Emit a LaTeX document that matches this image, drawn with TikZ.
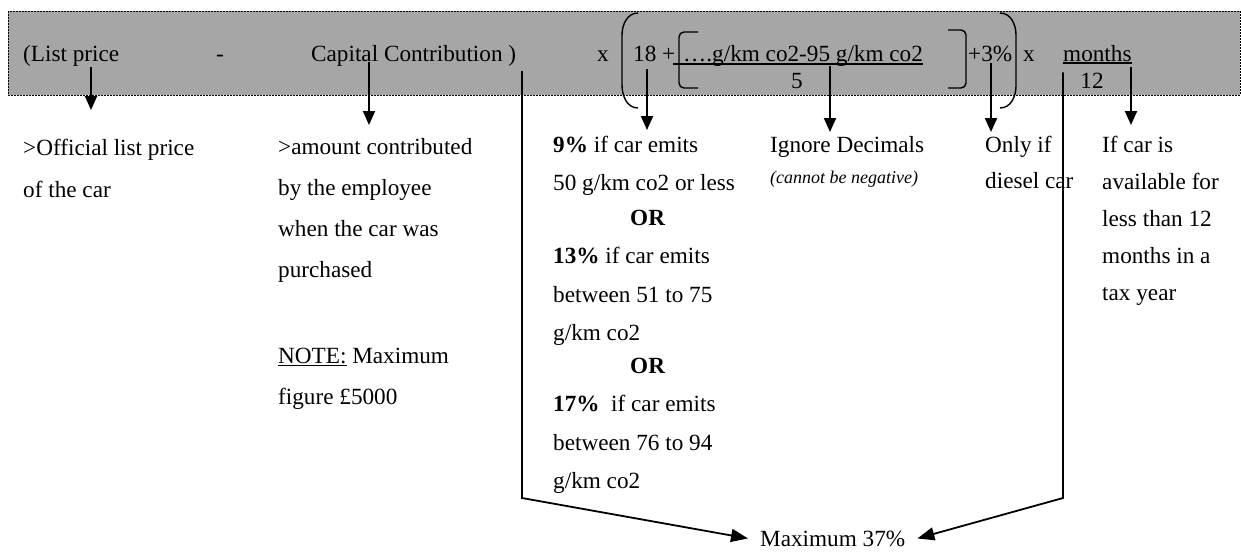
\documentclass[tikz,border=0pt]{standalone}
\usepackage{fontspec}
\setmainfont{Liberation Serif}
\usetikzlibrary{arrows.meta}
\definecolor{gris}{HTML}{A6A6A6}

\begin{document}
\begin{tikzpicture}[x=1pt,y=-1pt]
\tikzset{texte/.style={inner sep=0pt, anchor=base west, align=left, font=\fontsize{23.2}{37}\selectfont}}
\tikzset{fleche/.style={line width=2pt, -{Triangle[length=14pt,width=12pt]}}}
\tikzset{ligne/.style={line width=1.8pt, -{Triangle[length=17pt,width=13pt]}}}
\tikzset{trait/.style={line width=1.4pt}}
\useasboundingbox (0,0) rectangle (1241,551);
% bande grise de la formule
\draw[fill=gris, line width=0.7pt, dash pattern=on 2pt off 1pt] (8,11) rectangle (1240,95);
% formule
\node[texte] (lp) at (23,62) {(List price};
\node[texte] (moins) at (216,62) {-};
\node[texte] (cc) at (311,62) {Capital Contribution )};
\node[texte] (x1) at (597,62) {x};
\node[texte] (n18) at (633,61) {18 +};
\node[texte] (num) at (683,61) {….g/km co2-95 g/km co2};
\node[texte, anchor=base] (den) at (797,88) {5};
\node[texte] (pct) at (968,62) {+3\%};
\node[texte] (x2) at (1023,62) {x};
\node[texte] (mo) at (1063,61) {months};
\node[texte, anchor=base] (douze) at (1092,88) {12};
\draw[trait] ([xshift=-10pt,yshift=-3pt]num.base west) -- ([yshift=-3pt]num.base east);
\draw[trait] ([yshift=-2pt]mo.base west) -- ([yshift=-2pt]mo.base east);
\draw[trait] (638,13) to[out=180,in=90] (622,35) -- (622,85) to[out=270,in=180] (638,108);
\draw[trait] (1000,13) to[out=0,in=90] (1016,35) -- (1016,86) to[out=270,in=0] (1000,108);
\draw[trait, rounded corners=5pt] (698,32) -- (679,32) -- (679,88) -- (698,88);
\draw[trait, rounded corners=5pt] (948,30) -- (966,30) -- (966,88) -- (948,88);
% explications (base = derniere ligne)
\node[texte, font=\fontsize{23.2}{42}\selectfont] (off) at (23,197) {>Official list price\\of the car};
\node[texte, font=\fontsize{23.2}{41}\selectfont] (amt) at (278,404) {>amount contributed\\by the employee\\when the car was\\purchased\\[45pt]\underline{NOTE:} Maximum\\figure £5000};
\node[texte, font=\fontsize{23.2}{38.5}\selectfont] (taux) at (553,488.5) {\textbf{9\%} if car emits\\50 g/km co2 or less\\[-4pt]\hspace*{77pt}\textbf{OR}\\\textbf{13\%} if car emits\\between 51 to 75\\g/km co2\\[-6pt]\hspace*{77pt}\textbf{OR}\\\textbf{17\%}~ if car emits\\between 76 to 94\\g/km co2};
\node[texte] (ign) at (770,152) {Ignore Decimals};
\node[texte, font=\fontsize{18}{22}\selectfont\itshape] (neg) at (770,183) {(cannot be negative)};
\node[texte, font=\fontsize{23.2}{36}\selectfont] (diesel) at (985,188) {Only if\\diesel car};
\node[texte] (dispo) at (1102,300) {If car is\\available for\\less than 12\\months in a\\tax year};
\node[texte, inner xsep=12pt] (max) at (748,546) {Maximum 37\%};
% fleches
\coordinate (e1) at (91,110);
\coordinate (e2) at (369,125);
\coordinate (e3) at (647,130);
\coordinate (e4) at (830,132);
\coordinate (e5) at (991,132);
\coordinate (e6) at (1131,125);
\coordinate (g1) at (522,498);
\coordinate (d1) at (1063,498);
\draw[fleche] (lp.south -| e1) -- (e1);
\draw[fleche] (cc.base -| e2) -- (e2);
\draw[fleche, shorten <=8pt] (n18.south -| e3) -- (e3);
\draw[fleche] (num.south -| e4) -- (e4);
\draw[fleche] (pct.south -| e5) -- (e5);
\draw[fleche, shorten <=6pt] (mo.south -| e6) -- (e6);
\draw[ligne, shorten <=4pt] (cc.south -| g1) -- (g1) -- (max.west);
\draw[ligne, shorten <=11pt] (mo.south -| d1) -- (d1) -- (max.east);
\end{tikzpicture}
\end{document}
